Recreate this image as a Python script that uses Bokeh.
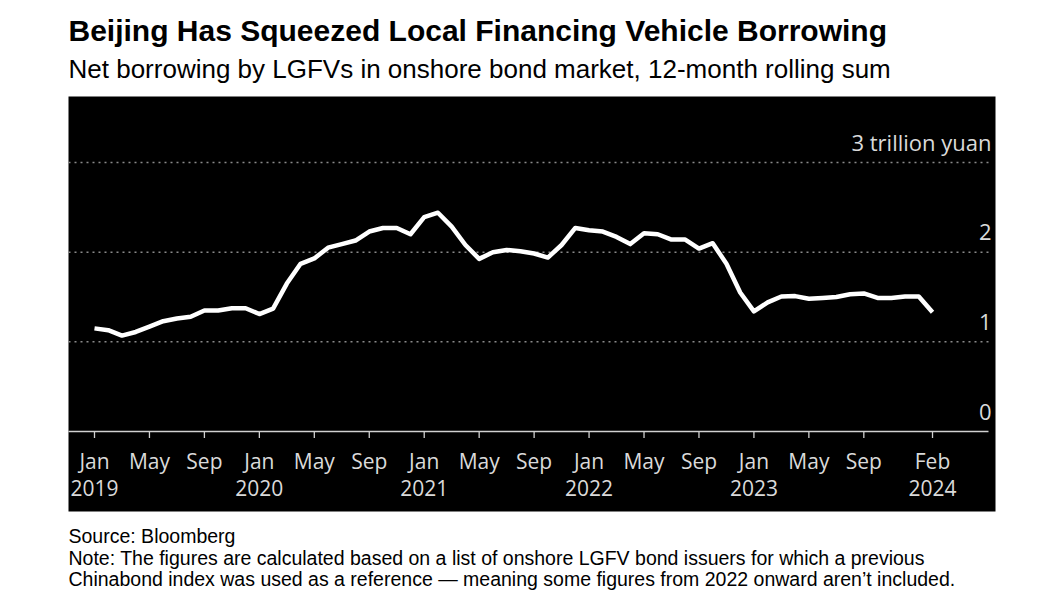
from bokeh.plotting import figure
from bokeh.models import Range1d, ColumnDataSource, BoxAnnotation
from bokeh.embed import file_html
from bokeh.resources import INLINE
from bokeh.core.properties import value

# ---- data (trillion yuan), monthly Jan 2019 .. Feb 2024 ----
months = list(range(62))  # month index, 0 = Jan 2019
net_borrowing = [
    1.15, 1.13, 1.07, 1.11, 1.17, 1.23, 1.26, 1.28, 1.35, 1.35, 1.375, 1.375,   # 2019
    1.31, 1.37, 1.65, 1.87, 1.93, 2.05, 2.09, 2.13, 2.23, 2.27, 2.27, 2.20,     # 2020
    2.39, 2.44, 2.285, 2.08, 1.925, 2.00, 2.025, 2.01, 1.985, 1.94, 2.08, 2.27, # 2021
    2.245, 2.23, 2.17, 2.09, 2.21, 2.20, 2.14, 2.14, 2.04, 2.10, 1.87, 1.55,    # 2022
    1.34, 1.44, 1.505, 1.51, 1.48, 1.49, 1.50, 1.53, 1.54, 1.49, 1.49, 1.505,   # 2023
    1.505, 1.33,                                                                # 2024
]
tick_months = [0, 4, 8, 12, 16, 20, 24, 28, 32, 36, 40, 44, 48, 52, 56, 61]
tick_month_labels = ["Jan", "May", "Sep", "Jan", "May", "Sep", "Jan", "May", "Sep",
                     "Jan", "May", "Sep", "Jan", "May", "Sep", "Feb"]
tick_year_labels = ["2019", "", "", "2020", "", "", "2021", "", "",
                    "2022", "", "", "2023", "", "", "2024"]
y_levels = [0, 1, 2, 3]
y_labels = ["0", "1", "2", "3 trillion yuan"]

title = "Beijing Has Squeezed Local Financing Vehicle Borrowing"
subtitle = "Net borrowing by LGFVs in onshore bond market, 12-month rolling sum"
notes = ["Source: Bloomberg",
         "Note: The figures are calculated based on a list of onshore LGFV bond issuers for which a previous",
         "Chinabond index was used as a reference \u2014 meaning some figures from 2022 onward aren\u2019t included."]

# ---- layout (page pixels) ----
W, H = 1060, 600
PX_X0, PX_PER_MONTH = 94.0, 13.738      # page x of month 0, pixels per month
PX_Y0, PX_PER_UNIT = 431.0, 89.667      # page y of value 0, pixels per trillion
PANEL_L, PANEL_R, PANEL_T, PANEL_B = 68, 995, 96, 511
GRID_R = 988

def px2x(px):
    return (px - PX_X0) / PX_PER_MONTH

def px2y(py):
    return (PX_Y0 - py) / PX_PER_UNIT

p = figure(width=W, height=H, output_backend="svg", toolbar_location=None,
           x_range=Range1d(px2x(0), px2x(W)), y_range=Range1d(px2y(H), px2y(0)),
           min_border=0, min_border_left=0, min_border_right=0, min_border_top=0,
           min_border_bottom=0, background_fill_color="white", border_fill_color="white",
           outline_line_color=None)
p.xaxis.visible = False
p.yaxis.visible = False
p.grid.visible = False

# black chart panel
p.add_layout(BoxAnnotation(left=px2x(PANEL_L), right=px2x(PANEL_R), top=px2y(PANEL_T),
                           bottom=px2y(PANEL_B), fill_color="black", fill_alpha=1.0,
                           line_color=None, level="underlay"))

TICK_FONT = value("Open Sans")
LABEL_COLOR = "#dadada"
xl, xg = px2x(PANEL_L), px2x(GRID_R)

# gridlines
grid_lv = [v for v in y_levels if v != 0]
p.segment(x0=[xl] * len(grid_lv), x1=[xg] * len(grid_lv), y0=grid_lv, y1=grid_lv,
          line_color="#8a8a8a", line_width=1.5, line_dash="2 4")
# baseline axis
p.segment(x0=[xl], x1=[xg], y0=[0], y1=[0], line_color="#d0d0d0", line_width=1.5)
# ticks
tsrc = ColumnDataSource(dict(x=tick_months, y=[0] * len(tick_months),
                             m=tick_month_labels, yr=tick_year_labels))
p.segment(x0="x", x1="x", y0="y", y1=px2y(PX_Y0 + 6.5), source=tsrc,
          line_color="#d0d0d0", line_width=1.3)
p.text(x="x", y="y", text="m", source=tsrc, y_offset=29, text_align="center",
       text_baseline="middle", text_font=TICK_FONT, text_font_size="21px", text_color=LABEL_COLOR)
p.text(x="x", y="y", text="yr", source=tsrc, y_offset=56, text_align="center",
       text_baseline="middle", text_font=TICK_FONT, text_font_size="21px", text_color=LABEL_COLOR)
# y labels
p.text(x=[px2x(991)] * len(y_levels), y=y_levels, text=y_labels, y_offset=-20,
       text_align="right", text_baseline="middle", text_font=TICK_FONT,
       text_font_size="22px", text_color=LABEL_COLOR)

# the line
p.line(months, net_borrowing, line_color="white", line_width=4.5, line_join="round")

FONT = value("Liberation Sans")
def lab(txt, center_y, size, bold=False):
    p.text(x=[px2x(PANEL_L)], y=[px2y(center_y)], text=[txt], text_font=FONT,
           text_font_size=size, text_color="black", text_baseline="middle", text_align="left",
           text_font_style="bold" if bold else "normal")

lab(title, 30, "30px", True)
lab(subtitle, 68.5, "26px")
lab(notes[0], 535.5, "19.5px")
lab(notes[1], 557, "19.5px")
lab(notes[2], 578, "19.5px")

open("out.html", "w").write(file_html(p, INLINE))
